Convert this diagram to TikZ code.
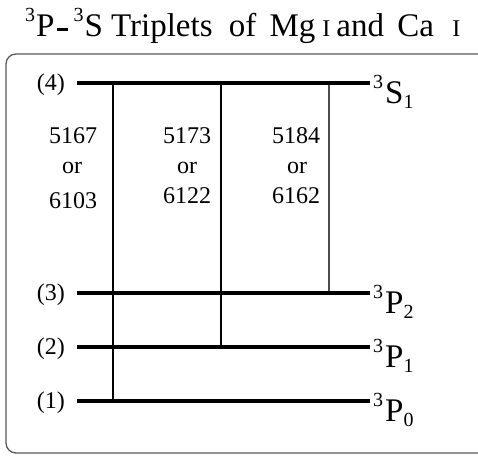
\documentclass[tikz,border=0pt]{standalone}
\usepackage{fontspec}
\setmainfont{Liberation Serif}
\newcommand\supn[1]{{\fontsize{20}{20}\selectfont\raisebox{15pt}{#1}}}
\newcommand\subn[1]{{\fontsize{20}{20}\selectfont\raisebox{-5pt}{#1}}}
\newcommand\scI{{\fontsize{24}{24}\selectfont I}}
\begin{document}
\begin{tikzpicture}[x=1pt,y=-1pt,
  level/.style={line width=3.5pt,black},
  trans/.style={line width=1.1pt,black},
  frame/.style={draw=gray!70!black,line width=1.3pt,rounded corners=10pt},
  lvlab/.style={anchor=base west,inner sep=0pt,font=\fontsize{33}{33}\selectfont},
  numlab/.style={anchor=base,inner sep=0pt,font=\fontsize{24}{24}\selectfont},
  idx/.style={anchor=base east,inner sep=0pt,font=\fontsize{24}{24}\selectfont},
  titlestyle/.style={anchor=base west,inner sep=0pt,font=\fontsize{33}{33}\selectfont}
]
\clip (0,0) rectangle (478,460);
\useasboundingbox (0,0) rectangle (478,460);
\draw[frame] (6,54) rectangle (500,453);

\node[titlestyle] (title) at (25,37) {\supn{3}\hspace{1pt}P\hspace{2pt}\rule[6pt]{11pt}{2.5pt}\hspace{6pt}\supn{3}\hspace{1pt}S Triplets\hspace{8pt} of\hspace{5pt} Mg\hspace{7pt}\scI\hspace{6pt}and\hspace{5pt} Ca\hspace{10pt} \scI};

% level end points
\coordinate (a4) at (77,83);  \coordinate (b4) at (370,83);
\coordinate (a3) at (77,293); \coordinate (b3) at (370,293);
\coordinate (a2) at (77,347); \coordinate (b2) at (370,347);
\coordinate (a1) at (77,401); \coordinate (b1) at (370,401);
% transition end points
\coordinate (t1) at (113,83);  \coordinate (u1) at (113,401);
\coordinate (t2) at (221,83);  \coordinate (u2) at (221,347);
\coordinate (t3) at (329,83);  \coordinate (u3) at (329,293);

\draw[trans] (t1) -- (u1);
\draw[trans] (t2) -- (u2);
\draw[trans,gray!60!black] (t3) -- (u3);

\draw[level] (a4) -- (b4);
\draw[level] (a3) -- (b3);
\draw[level] (a2) -- (b2);
\draw[level] (a1) -- (b1);

\node[idx] (i4) at (65,90) {(4)};
\node[idx] (i3) at (65,300) {(3)};
\node[idx] (i2) at (65,354) {(2)};
\node[idx] (i1) at (65,408) {(1)};

\node[lvlab] (s1) at (373,103) {\supn{3}\hspace{2pt}S\subn{1}};
\node[lvlab] (p2) at (373,313) {\supn{3}\hspace{2pt}P\subn{2}};
\node[lvlab] (p1) at (373,367) {\supn{3}\hspace{2pt}P\subn{1}};
\node[lvlab] (p0) at (373,421) {\supn{3}\hspace{2pt}P\subn{0}};

\node[numlab] (n11) at (73,143) {5167};
\node[numlab] (n12) at (72,173) {or};
\node[numlab] (n13) at (73,208) {6103};
\node[numlab] (n21) at (187,143) {5173};
\node[numlab] (n22) at (187,173) {or};
\node[numlab] (n23) at (187,203) {6122};
\node[numlab] (n31) at (296,143) {5184};
\node[numlab] (n32) at (297,173) {or};
\node[numlab] (n33) at (296,203) {6162};
\end{tikzpicture}
\end{document}
